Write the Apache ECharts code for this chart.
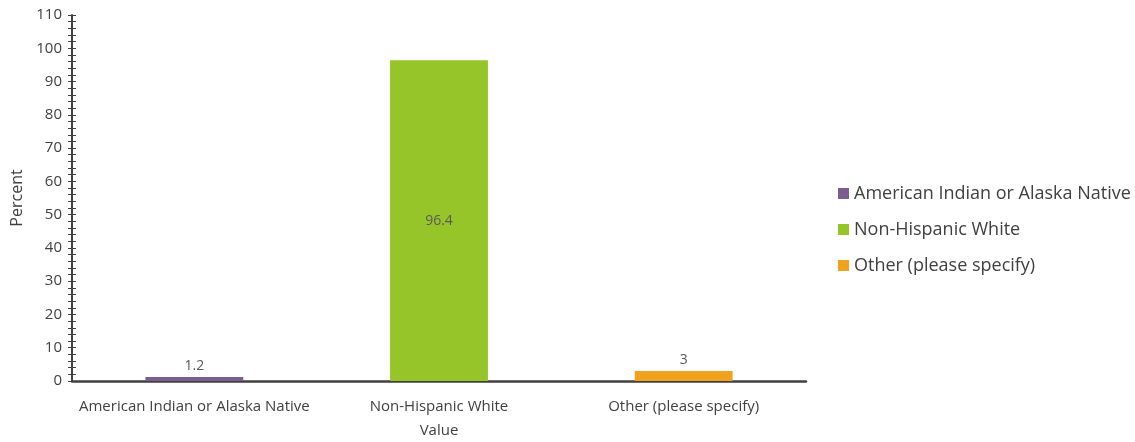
<!DOCTYPE html>
<html><head><meta charset="utf-8">
<script src="https://cdn.jsdelivr.net/npm/echarts@6/dist/echarts.min.js"></script>
<style>html,body{margin:0;padding:0;background:#fff}#c{width:1135px;height:442px}</style>
</head><body><div id="c"></div>
<script>
const categories = ['American Indian or Alaska Native', 'Non-Hispanic White', 'Other (please specify)'];
const values = [1.2, 96.4, 3];
const colors = ['#7b5e8f', '#96c52a', '#f0a21e'];
const labelPos = ['top', 'inside', 'top'];

const chart = echarts.init(document.getElementById('c'));
const series = categories.map((name, i) => ({
  name: name,
  type: 'bar',
  stack: 'all',
  barWidth: '40%',
  itemStyle: { color: colors[i] },
  label: { show: true, position: labelPos[i], color: '#595959', fontSize: 14, fontFamily: 'Open Sans', distance: 4 },
  data: categories.map((c, j) => j === i ? values[i] : '-')
}));
chart.setOption({
  animation: false,
  textStyle: { fontFamily: 'Open Sans' },
  grid: { left: 72, top: 15, right: 329, bottom: 61, containLabel: false, outerBoundsMode: 'none' },
  legend: {
    orient: 'vertical', left: 833, top: 177, itemWidth: 11, itemHeight: 11, itemGap: 13,
    icon: 'rect',
    textStyle: { fontSize: 18, color: '#404040', fontFamily: 'Open Sans', lineHeight: 23 },
    data: categories
  },
  xAxis: {
    type: 'category', data: categories,
    name: 'Value', nameLocation: 'middle', nameGap: 42,
    nameTextStyle: { fontSize: 15, color: '#404040' },
    axisLine: { lineStyle: { color: '#404040', width: 2.5 } },
    axisTick: { show: false },
    axisLabel: { fontSize: 15, color: '#404040', margin: 18, interval: 0 }
  },
  yAxis: [{
    type: 'value', min: 0, max: 110, interval: 2,
    name: 'Percent', nameLocation: 'middle', nameGap: 46,
    nameTextStyle: { fontSize: 16, color: '#404040' },
    axisLine: { show: true, lineStyle: { color: '#404040', width: 2 } },
    axisTick: { show: true, length: 4, lineStyle: { color: '#404040' } },
    splitLine: { show: false },
    axisLabel: { fontSize: 15, color: '#404040', margin: 10,
      formatter: v => (v % 10 === 0 ? String(v) : '') }
  }, {
    type: 'value', min: 0, max: 110, interval: 2, position: 'left',
    axisLine: { show: false },
    axisTick: { show: true, inside: true, length: 4, lineStyle: { color: '#404040' } },
    splitLine: { show: false },
    axisLabel: { show: false }
  }],
  series: series
});
</script></body></html>
